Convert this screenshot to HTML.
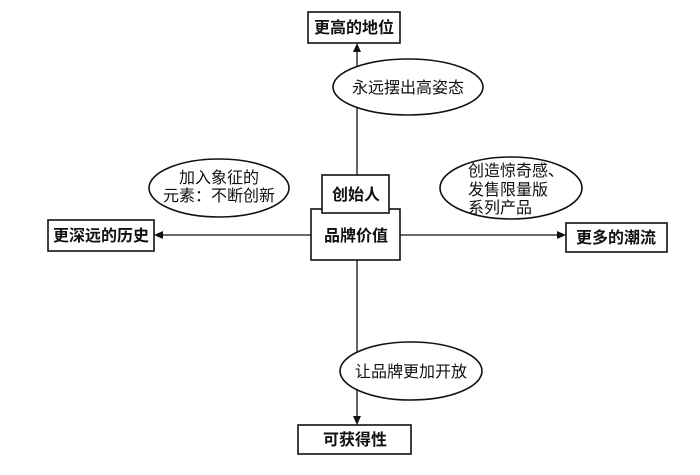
<!DOCTYPE html>
<html><head><meta charset="utf-8"><style>
html,body{margin:0;padding:0;background:#fff;}
svg text{font-family:"Liberation Sans","Noto Sans CJK SC",sans-serif;fill:#111;}
.b{font-weight:bold;font-size:16px;}
.n{font-size:16px;}
</style></head><body>
<svg width="700" height="470" viewBox="0 0 700 470" xmlns="http://www.w3.org/2000/svg">
<g stroke="#111" fill="none" stroke-width="1.3">
<line x1="357" y1="175" x2="357" y2="50"/>
<line x1="357" y1="260" x2="357" y2="418"/>
<line x1="311" y1="235" x2="162" y2="235"/>
<line x1="400" y1="235" x2="560" y2="235"/>
</g>
<g fill="#111">
<polygon points="357,43 353,52 361,52"/>
<polygon points="357,425 353,416 361,416"/>
<polygon points="154,235 163,231 163,239"/>
<polygon points="566,235 557,231 557,239"/>
</g>
<g stroke="#111" fill="#fff" stroke-width="1.6">
<rect x="308" y="12" width="92" height="31"/>
<rect x="48" y="220" width="106" height="31"/>
<rect x="566" y="223" width="101" height="29"/>
<rect x="298" y="425" width="113" height="29"/>
<rect x="311" y="209" width="89" height="51"/>
<rect x="322" y="175" width="67" height="38"/>
<ellipse cx="408" cy="87" rx="75" ry="28"/>
<ellipse cx="219" cy="188" rx="70" ry="29"/>
<ellipse cx="511" cy="188" rx="71" ry="31"/>
<ellipse cx="411" cy="371" rx="71" ry="29"/>
</g>
<text class="b" x="354" y="33" text-anchor="middle">更高的地位</text>
<text class="b" x="101" y="241" text-anchor="middle">更深远的历史</text>
<text class="b" x="616" y="243" text-anchor="middle">更多的潮流</text>
<text class="b" x="355" y="445" text-anchor="middle">可获得性</text>
<text class="b" x="356" y="200" text-anchor="middle">创始人</text>
<text class="b" x="356" y="241" text-anchor="middle">品牌价值</text>
<text class="n" x="408" y="93" text-anchor="middle">永远摆出高姿态</text>
<text class="n" x="219" y="183" text-anchor="middle">加入象征的</text>
<text class="n" x="219" y="201" text-anchor="middle">元素：不断创新</text>
<text class="n" x="468" y="176">创造惊奇感、</text>
<text class="n" x="468" y="195">发售限量版</text>
<text class="n" x="468" y="213">系列产品</text>
<text class="n" x="411" y="377" text-anchor="middle">让品牌更加开放</text>
</svg>
</body></html>
